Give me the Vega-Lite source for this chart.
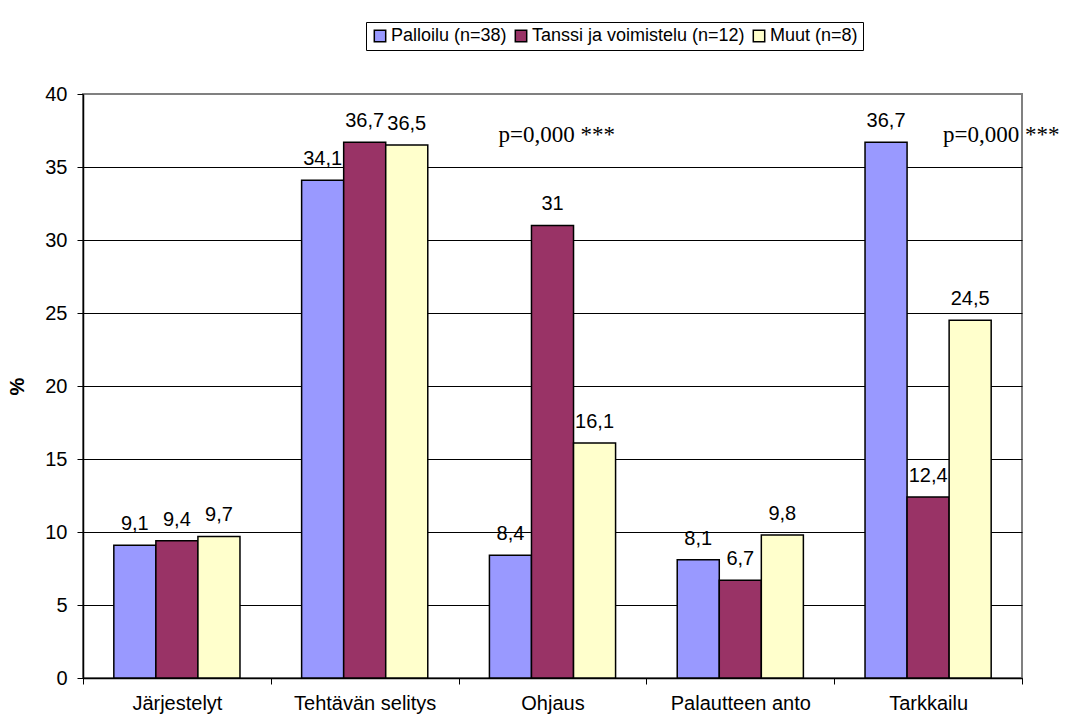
{
  "$schema": "https://vega.github.io/schema/vega-lite/v6.json",
  "width": 939,
  "height": 584,
  "autosize": {"type": "none"},
  "padding": {"left": 83, "top": 94, "right": 44, "bottom": 40},
  "background": "white",
  "layer": [
    {
      "data": {"name": "osuudet"},
      "mark": {"type": "bar", "stroke": "black", "strokeWidth": 1.5},
      "encoding": {
        "x": {
          "field": "kategoria",
          "type": "nominal",
          "sort": null,
          "scale": {"paddingInner": 0, "paddingOuter": 0},
          "axis": {
            "title": null,
            "labelAngle": 0,
            "tickBand": "extent",
            "tickSize": 6,
            "labelPadding": 9,
            "domainColor": "black",
            "tickColor": "black",
            "domainWidth": 1.5,
            "grid": false
          }
        },
        "y": {
          "field": "prosentti",
          "type": "quantitative",
          "scale": {"domain": [0, 40], "nice": false},
          "axis": {
            "title": "%",
            "values": [0, 5, 10, 15, 20, 25, 30, 35, 40],
            "tickSize": 6,
            "labelPadding": 10,
            "domainColor": "black",
            "domainWidth": 1.5,
            "tickColor": "black",
            "grid": true,
            "gridColor": {"condition": {"test": "datum.value == 40", "value": "#808080"}, "value": "black"},
            "gridWidth": 1,
            "titleFontWeight": "bold",
            "titlePadding": 17
          }
        },
        "xOffset": {
          "field": "ryhma",
          "type": "nominal",
          "sort": null,
          "scale": {"paddingInner": 0, "paddingOuter": 0.733}
        },
        "color": {
          "field": "ryhma",
          "type": "nominal",
          "sort": null,
          "scale": {
            "domain": ["Palloilu (n=38)", "Tanssi ja voimistelu (n=12)", "Muut (n=8)"],
            "range": ["#9999FF", "#993366", "#FFFFCC"]
          },
          "legend": {
            "title": null,
            "orient": "none",
            "legendX": 283,
            "legendY": -72,
            "direction": "horizontal",
            "columns": 3,
            "symbolType": "square",
            "symbolSize": 130,
            "symbolStrokeColor": "black",
            "symbolStrokeWidth": 1.5,
            "symbolOpacity": 1,
            "labelOffset": 2,
            "columnPadding": 5,
            "strokeColor": "black",
            "padding": 5,
            "labelFontSize": 18,
            "labelFont": "Liberation Sans",
            "labelColor": "black",
            "labelLimit": 400
          }
        }
      }
    },
    {
      "data": {"name": "osuudet"},
      "mark": {"type": "text", "baseline": "alphabetic", "dy": -15, "fontSize": 20, "font": "Liberation Sans", "color": "black"},
      "encoding": {
        "x": {"field": "kategoria", "type": "nominal", "sort": null},
        "y": {"field": "prosentti", "type": "quantitative"},
        "xOffset": {"field": "ryhma", "type": "nominal", "sort": null},
        "text": {"field": "prosentti", "type": "quantitative", "format": ".1~f"}
      }
    },
    {
      "data": {"values": [{"kategoria": "Ohjaus", "teksti": "p=0,000 ***"}]},
      "mark": {"type": "text", "align": "left", "baseline": "middle", "dx": -54, "font": "Liberation Serif", "fontSize": 23, "color": "black"},
      "encoding": {
        "x": {"field": "kategoria", "type": "nominal", "sort": null},
        "y": {"datum": 37.2, "type": "quantitative"},
        "text": {"field": "teksti", "type": "nominal"}
      }
    },
    {
      "data": {"values": [{"kategoria": "Tarkkailu", "teksti": "p=0,000 ***"}]},
      "mark": {"type": "text", "align": "left", "baseline": "middle", "dx": 15, "font": "Liberation Serif", "fontSize": 23, "color": "black"},
      "encoding": {
        "x": {"field": "kategoria", "type": "nominal", "sort": null},
        "y": {"datum": 37.2, "type": "quantitative"},
        "text": {"field": "teksti", "type": "nominal"}
      }
    }
  ],
  "datasets": {
    "osuudet": [
      {"kategoria": "Järjestelyt", "ryhma": "Palloilu (n=38)", "prosentti": 9.1},
      {"kategoria": "Järjestelyt", "ryhma": "Tanssi ja voimistelu (n=12)", "prosentti": 9.4},
      {"kategoria": "Järjestelyt", "ryhma": "Muut (n=8)", "prosentti": 9.7},
      {"kategoria": "Tehtävän selitys", "ryhma": "Palloilu (n=38)", "prosentti": 34.1},
      {"kategoria": "Tehtävän selitys", "ryhma": "Tanssi ja voimistelu (n=12)", "prosentti": 36.7},
      {"kategoria": "Tehtävän selitys", "ryhma": "Muut (n=8)", "prosentti": 36.5},
      {"kategoria": "Ohjaus", "ryhma": "Palloilu (n=38)", "prosentti": 8.4},
      {"kategoria": "Ohjaus", "ryhma": "Tanssi ja voimistelu (n=12)", "prosentti": 31},
      {"kategoria": "Ohjaus", "ryhma": "Muut (n=8)", "prosentti": 16.1},
      {"kategoria": "Palautteen anto", "ryhma": "Palloilu (n=38)", "prosentti": 8.1},
      {"kategoria": "Palautteen anto", "ryhma": "Tanssi ja voimistelu (n=12)", "prosentti": 6.7},
      {"kategoria": "Palautteen anto", "ryhma": "Muut (n=8)", "prosentti": 9.8},
      {"kategoria": "Tarkkailu", "ryhma": "Palloilu (n=38)", "prosentti": 36.7},
      {"kategoria": "Tarkkailu", "ryhma": "Tanssi ja voimistelu (n=12)", "prosentti": 12.4},
      {"kategoria": "Tarkkailu", "ryhma": "Muut (n=8)", "prosentti": 24.5}
    ]
  },
  "config": {
    "locale": {"number": {"decimal": ",", "thousands": " ", "grouping": [3], "currency": ["", " €"]}},
    "font": "Liberation Sans",
    "view": {"stroke": "#808080", "strokeWidth": 2},
    "axis": {
      "labelFont": "Liberation Sans",
      "labelFontSize": 20,
      "labelColor": "black",
      "titleFont": "Liberation Sans",
      "titleFontSize": 20,
      "titleColor": "black"
    }
  }
}
